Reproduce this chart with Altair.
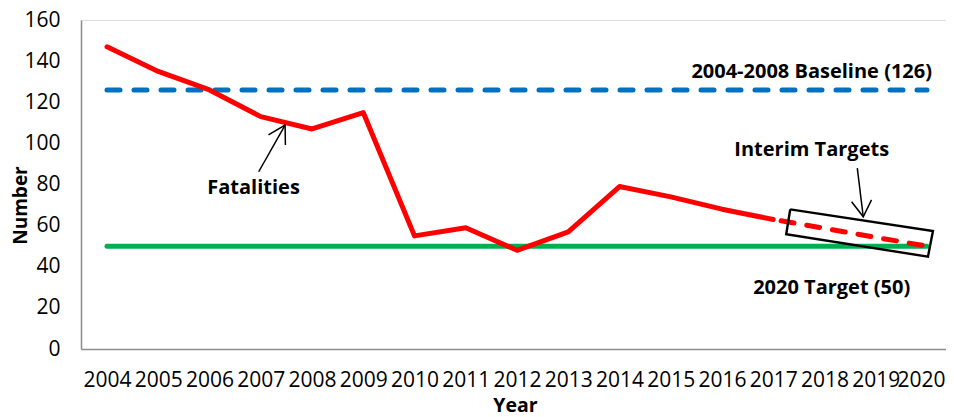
import altair as alt
import pandas as pd

# ---- data ----
years = list(range(2004, 2018))
fatalities = [147, 135, 126, 113, 107, 115, 55, 59, 48, 57, 79, 74, 68, 63]

interim_years = [2017, 2018, 2019, 2020]
interim_values = [63, 58.7, 54.3, 50]

ref_years = [2004, 2020]
baseline_values = [126, 126]
target_values = [50, 50]

tick_years = list(range(2004, 2021))
y_ticks = [0, 20, 40, 60, 80, 100, 120, 140, 160]

# annotation texts (positions in data units)
label_text = ["2004-2008 Baseline (126)", "Fatalities", "Interim Targets", "2020 Target (50)"]
label_x = [2017.75, 2006.86, 2017.75, 2018.14]
label_y = [134.7, 78.3, 96.8, 29.7]

# arrows: tail->head, plus two barbs
arrow_grp = ["a1"] * 2 + ["a1b"] * 3 + ["a2"] * 2 + ["a2b"] * 3
arrow_x = [2006.96, 2007.475, 2007.15, 2007.475, 2007.481,
           2018.64, 2018.756, 2018.529, 2018.756, 2018.917]
arrow_y = [86.2, 108.9, 104.1, 108.9, 99.2,
           88.0, 64.3, 71.6, 64.3, 72.5]

# rotated box around interim targets
box_x = [2017.331, 2020.116, 2020.019, 2017.253, 2017.331]
box_y = [67.9, 57.4, 44.9, 55.8, 67.9]

FONT = "Open Sans"
W = 865
STEP = 51.25
x0 = 2004 - 26 / STEP
xdom = [x0, x0 + W / STEP]
xs = alt.Scale(domain=xdom, nice=False, zero=False)
ys = alt.Scale(domain=[0, 160], nice=False)

x_axis = alt.Axis(values=tick_years, format="d", title="Year", labelAngle=0,
                  labelFont=FONT, labelFontSize=21, labelColor="black",
                  labelPadding=20, ticks=False, tickSize=0, grid=False,
                  domainColor="#8c8c8c", domainWidth=1.5, labelOverlap=False,
                  labelBound=False, labelFlush=False,
                  labelOffset={"condition": {"test": "datum.value == 2020", "value": -6},
                               "value": 0},
                  titleFont=FONT, titleFontSize=19.5, titleFontWeight="bold",
                  titleColor="black", titleX=434, titleY=56, titleBaseline="middle")
y_axis = alt.Axis(values=y_ticks, title="Number", labelFont=FONT, labelFontSize=21,
                  labelColor="black", labelPadding=21, ticks=False, tickSize=0,
                  grid=False, domainColor="#8c8c8c", domainWidth=1.5,
                  titleFont=FONT, titleFontSize=19, titleFontWeight="bold",
                  titleColor="black", titleX=-61, titleY=185, titleAngle=270,
                  titleAlign="center", titleBaseline="middle")

fat_df = pd.DataFrame({"year": years, "value": fatalities})
int_df = pd.DataFrame({"year": interim_years, "value": interim_values})
base_df = pd.DataFrame({"year": ref_years, "value": baseline_values})
targ_df = pd.DataFrame({"year": ref_years, "value": target_values})
lab_df = pd.DataFrame({"x": label_x, "y": label_y, "text": label_text})
arr_df = pd.DataFrame({"x": arrow_x, "y": arrow_y, "grp": arrow_grp,
                       "ord": list(range(len(arrow_x)))})
box_df = pd.DataFrame({"x": box_x, "y": box_y, "ord": list(range(len(box_x)))})

green = alt.Chart(targ_df).mark_line(color="#00B050", strokeWidth=5, strokeCap="round").encode(
    x=alt.X("year:Q", scale=xs, axis=x_axis),
    y=alt.Y("value:Q", scale=ys, axis=y_axis),
)
blue = alt.Chart(base_df).mark_line(color="#0070C0", strokeWidth=5, strokeCap="round",
                                    strokeDash=[13, 14]).encode(
    x=alt.X("year:Q", scale=xs), y=alt.Y("value:Q", scale=ys))
red = alt.Chart(fat_df).mark_line(color="#FF0000", strokeWidth=5, strokeCap="round",
                                  strokeJoin="round").encode(
    x=alt.X("year:Q", scale=xs), y=alt.Y("value:Q", scale=ys))
red_dash = alt.Chart(int_df).mark_line(color="#FF0000", strokeWidth=5, strokeCap="round",
                                       strokeDash=[13, 13], strokeDashOffset=-8).encode(
    x=alt.X("year:Q", scale=xs), y=alt.Y("value:Q", scale=ys))
box = alt.Chart(box_df).mark_line(color="black", strokeWidth=2.4, strokeJoin="miter").encode(
    x=alt.X("x:Q", scale=xs), y=alt.Y("y:Q", scale=ys), order="ord:Q")
arrows = alt.Chart(arr_df).mark_line(color="black", strokeWidth=1.5).encode(
    x=alt.X("x:Q", scale=xs), y=alt.Y("y:Q", scale=ys), detail="grp:N", order="ord:Q")
labels = alt.Chart(lab_df).mark_text(font=FONT, fontSize=20, fontWeight="bold",
                                     color="black", baseline="middle", align="center").encode(
    x=alt.X("x:Q", scale=xs), y=alt.Y("y:Q", scale=ys), text="text:N")

chart = alt.layer(green, blue, red, red_dash, box, arrows, labels).properties(
    width=W, height=329,
    autosize=alt.AutoSizeParams(type="none"),
    padding={"left": 73, "top": 12, "right": 0, "bottom": 70},
).configure_view(stroke=None).configure(background="white")

chart.save("out.html", embed_options={"renderer": "svg", "actions": False})
